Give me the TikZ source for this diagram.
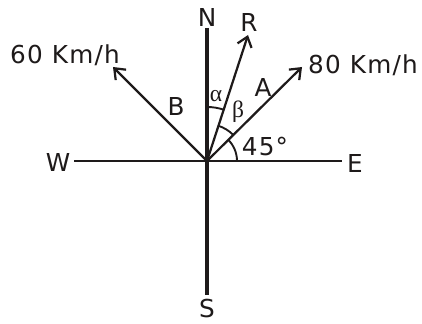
\documentclass[tikz,border=0pt]{standalone}
\usepackage{fontspec}
\setmainfont{DejaVu Sans}[LetterSpace=5]
\newfontfamily\greekfont{Liberation Serif}
\usetikzlibrary{arrows.meta}
\definecolor{Ink}{HTML}{1E1A1A}

\begin{document}
\begin{tikzpicture}[x=0.85pt,y=-0.85pt,every node/.style={font=\fontsize{21}{23}\selectfont,text=Ink,inner sep=0pt},axis/.style={draw=Ink,line width=1.3pt},pole/.style={draw=Ink,line width=3.4pt},vec/.style={draw=Ink,line width=1.9pt,-{Straight Barb[length=2.8mm,width=4.4mm,line width=1.9pt]}},angarc/.style={draw=Ink,line width=1.6pt},greek/.style={font=\greekfont\fontsize{20}{22}\selectfont}]
\useasboundingbox (0,0) rectangle (422,324);
\coordinate (O) at (207,161);\coordinate (nTop) at (207,28);\coordinate (sBot) at (207,295);\coordinate (wEnd) at (74,161);\coordinate (eEnd) at (342,161);
\coordinate (tipR) at (248,35);\coordinate (tipA) at (302,67);\coordinate (tipB) at (113,67);
\draw[axis](wEnd)--(eEnd);\draw[pole](nTop)--(sBot);
\draw[vec](O)--(tipR);\draw[vec](O)--(tipA);\draw[vec](O)--(tipB);
\draw[angarc]([shift={(-90:54)}]O) arc[start angle=-90,end angle=-72,radius=54];
\draw[angarc]([shift={(-72:37)}]O) arc[start angle=-72,end angle=-45,radius=37];
\draw[angarc]([shift={(-45:30)}]O) arc[start angle=-45,end angle=0,radius=30];
\node(lblN) at (207,17){N};\node(lblS) at (207,309){S};\node(lblW) at (58,162){W};\node(lblE) at (355,163){E};
\node(lblR) at (249,22){R};\node(lblA) at (263,87){A};\node(lblB) at (176,106){B};
\node(spdB) at (65,55){60 Km/h};\node(spdA) at (363,65){80 Km/h};
\node[greek](lblAlpha) at (216,96){α};\node[greek](lblBeta) at (238,112){β};\node(lblAng) at (265,147){45°};
\end{tikzpicture}
\end{document}
